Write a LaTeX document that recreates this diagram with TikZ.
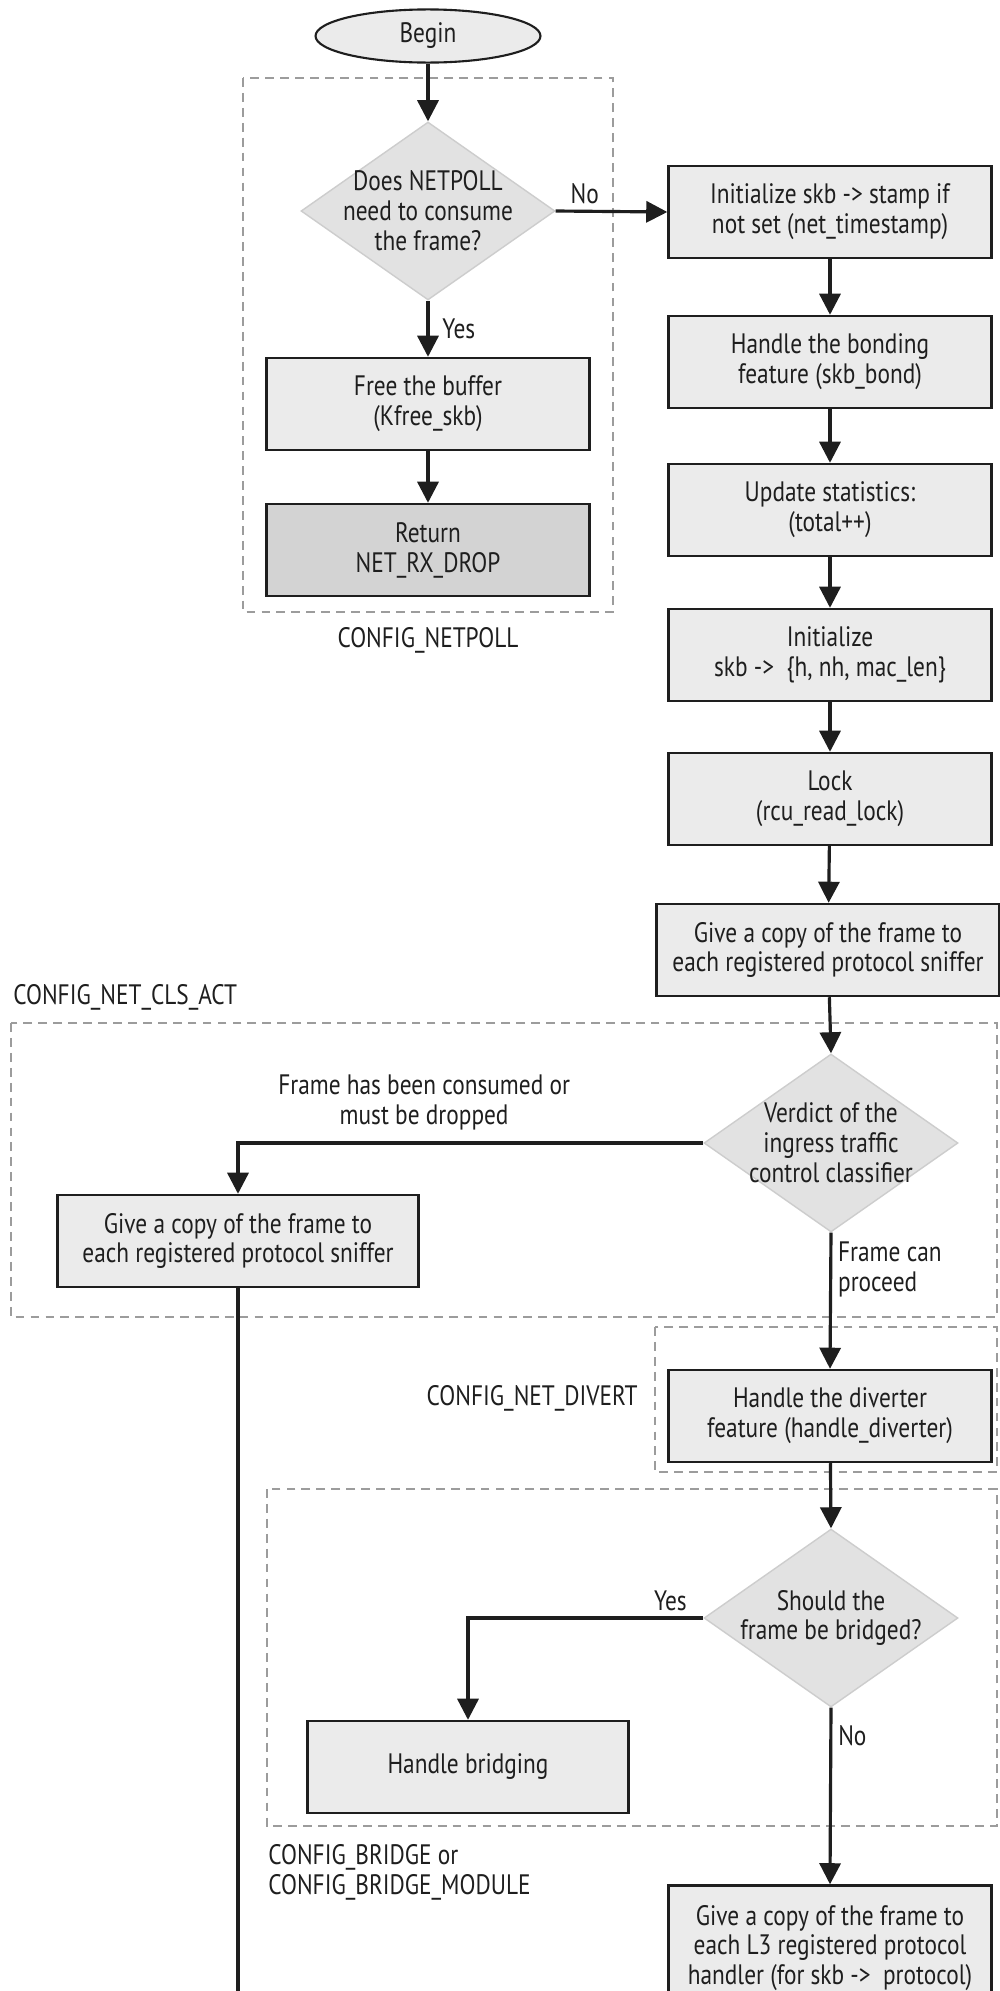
\documentclass[tikz,border=0pt]{standalone}
\usepackage{fontspec}
\setmainfont{PT Sans}[FakeStretch=0.83]
\usepackage{tikz}
\usetikzlibrary{arrows.meta,positioning,calc,shapes.geometric}
\definecolor{boxgray}{HTML}{EBEBEB}
\definecolor{dropgray}{HTML}{D3D3D3}
\definecolor{diagray}{HTML}{E2E2E2}
\definecolor{dialine}{HTML}{CDCDCD}
\definecolor{framegray}{HTML}{9C9C9C}
\definecolor{inkblack}{HTML}{1E1E1E}

\begin{document}
\begin{tikzpicture}[x=0.02cm,y=-0.02cm,
  every node/.style={font=\fontsize{16}{17}\selectfont, text=inkblack},
  stepbox/.style={draw=inkblack, line width=1.4pt, fill=boxgray, align=center,
    minimum width=6.46cm, minimum height=1.84cm, inner sep=2pt},
  dropbox/.style={stepbox, fill=dropgray},
  choice/.style={diamond, aspect=1.43, fill=diagray, draw=dialine, line width=0.8pt,
    align=center, minimum width=5.08cm, minimum height=3.56cm, inner sep=-0.6cm},
  flow/.style={draw=inkblack, line width=1.8pt, -{Triangle[length=12pt,width=12pt]}},
  cfgframe/.style={draw=framegray, line width=0.9pt, dash pattern=on 5pt off 3.5pt}]
\useasboundingbox (0,0) rectangle (1000,1991);
\fill[white] (0,0) rectangle (1000,1991);
\clip (0,0) rectangle (1000,1991);
% config frames
\draw[cfgframe] (243,78) rectangle (613,612);
\draw[cfgframe] (11,1023) rectangle (997,1317);
\draw[cfgframe] (655,1327) rectangle (997,1472);
\draw[cfgframe] (267,1489) rectangle (997,1826);
\node (cfgnetpoll) at (428,640) {CONFIG\_NETPOLL};
\node[anchor=west, inner sep=0pt] (cfgcls) at (13,997) {CONFIG\_NET\_CLS\_ACT};
\node[anchor=east, inner sep=0pt] (cfgdivert) at (638,1398) {CONFIG\_NET\_DIVERT};
\node[anchor=west, align=left, inner sep=0pt] (cfgbridge) at (268,1872) {CONFIG\_BRIDGE or\\CONFIG\_BRIDGE\_MODULE};
% netpoll branch
\node[ellipse, draw=inkblack, line width=1.2pt, fill=boxgray, minimum width=4.5cm, minimum height=1.04cm] (begin) at (428,36) {Begin};
\node[choice] (netpoll) at (428,211) {Does NETPOLL\\need to consume\\the frame?};
\node[stepbox] (freebuf) at (428,404) {Free the buffer\\(Kfree\_skb)};
\node[dropbox] (drop) at (428,550) {Return\\NET\_RX\_DROP};
% main column
\node[stepbox] (stamp) at (830,212) {Initialize skb -> stamp if\\not set (net\_timestamp)};
\node[stepbox] (bond) at (830,362) {Handle the bonding\\feature (skb\_bond)};
\node[stepbox] (stats) at (830,510) {Update statistics:\\(total++)};
\node[stepbox] (hdrs) at (830,655) {Initialize\\skb ->\ \ \{h, nh, mac\_len\}};
\node[stepbox] (lock) at (830,799) {Lock\\(rcu\_read\_lock)};
\node[stepbox, minimum width=6.86cm] (sniff) at (828,950) {Give a copy of the frame to\\each registered protocol sniffer};
\node[choice] (verdict) at (831,1143) {Verdict of the\\ingress traffic\\control classifier};
\node[stepbox, minimum width=7.22cm] (lsniff) at (238,1241) {Give a copy of the frame to\\each registered protocol sniffer};
\node[stepbox] (divert) at (830,1416) {Handle the diverter\\feature (handle\_diverter)};
\node[choice] (bridged) at (831,1618) {Should the\\frame be bridged?};
\node[stepbox, minimum width=6.42cm] (hbridge) at (468,1767) {Handle bridging};
\node[stepbox, minimum height=2.5cm] (l3) at (830,1948) {Give a copy of the frame to\\each L3 registered protocol\\handler (for skb ->\ \ protocol)};
\coordinate (bottom) at (237,2000);
% connectors
\draw[flow] (begin) -- (netpoll);
\draw[flow] (netpoll.east) -- node[pos=0.26, above] {No} (stamp.west);
\draw[flow] (netpoll.south) -- node[midway, right=4pt] {Yes} (freebuf.north);
\draw[flow] (freebuf) -- (drop);
\draw[flow] (stamp) -- (bond);
\draw[flow] (bond) -- (stats);
\draw[flow] (stats) -- (hdrs);
\draw[flow] (hdrs) -- (lock);
\draw[flow] (lock) -- (sniff);
\draw[flow] (sniff) -- (verdict.north);
\draw[flow] (verdict.west) -| node[pos=0.3, above=3pt, align=center] {Frame has been consumed or\\must be dropped} (lsniff.north);
\draw[flow] (verdict.south) -- node[pos=0.27, right, align=left] {Frame can\\proceed} (divert.north);
\draw[line width=1.8pt, draw=inkblack] (lsniff.south) -- (lsniff.south |- bottom);
\draw[flow] (divert) -- (bridged.north);
\draw[flow] (bridged.west) -| node[pos=0.07, above] {Yes} (hbridge.north);
\draw[flow] (bridged.south) -- node[pos=0.16, right] {No} (l3.north);
\end{tikzpicture}
\end{document}
